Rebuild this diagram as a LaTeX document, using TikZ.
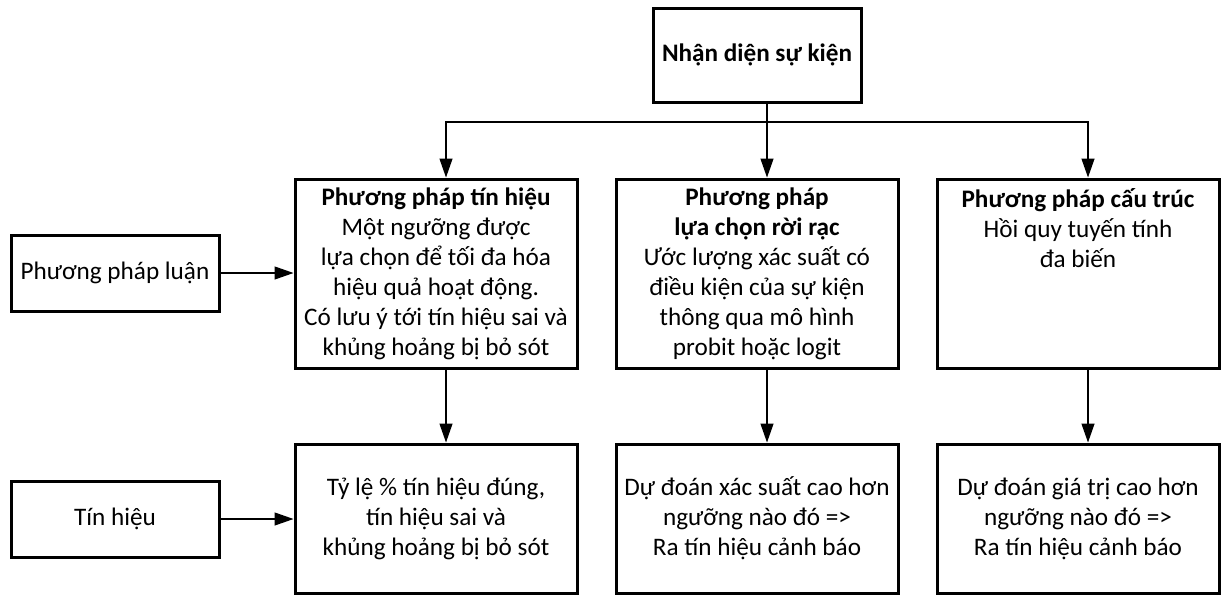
\documentclass[tikz,border=0pt]{standalone}
\usepackage{fontspec}
\setmainfont{Carlito}
\usetikzlibrary{arrows.meta}

\begin{document}
\begin{tikzpicture}[
    x=0.5pt, y=-0.5pt, % one unit = one pixel of the layout, y downwards
    >={Triangle[length=9.5pt, width=6.5pt]}, % filled triangle tips
    box/.style={draw, line width=1.5pt, align=center, inner sep=2pt,
      font=\fontsize{12.6}{15}\selectfont}, % common frame of all boxes
    method box/.style={box, minimum width=141pt, minimum height=94.5pt}, % upper row
    result box/.style={box, minimum width=141pt, minimum height=74.5pt}, % lower row
    side box/.style={box, minimum width=104pt, minimum height=38pt}, % labels on the left
    conn/.style={->, line width=0.65pt} % connectors
  ]

  % --- Frame ---
  \useasboundingbox (0,0) rectangle (1221,595);

  % --- Top ---
  \node[box, minimum width=104pt, minimum height=47pt] (event) at (757,55)
    {\textbf{Nhận diện sự kiện}};

  % --- Methods (upper row) ---
  \node[method box] (signal) at (436,273.5)
    {\textbf{Phương pháp tín hiệu}\\Một ngưỡng được\\lựa chọn để tối đa hóa\\hiệu quả hoạt động.\\Có lưu ý tới tín hiệu sai và\\khủng hoảng bị bỏ sót};
  \node[method box] (choice) at (757,273.5)
    {\textbf{Phương pháp}\\\textbf{lựa chọn rời rạc}\\Ước lượng xác suất có\\điều kiện của sự kiện\\thông qua mô hình\\probit hoặc logit};
  \node[method box] (struct) at (1078,273.5)
    {\textbf{Phương pháp cấu trúc}\\Hồi quy tuyến tính\\đa biến\\~\\~\\~};

  % --- Results (lower row) ---
  \node[result box] (signalout) at (436,518.5)
    {Tỷ lệ \% tín hiệu đúng,\\tín hiệu sai và\\khủng hoảng bị bỏ sót};
  \node[result box] (choiceout) at (757,518.5)
    {Dự đoán xác suất cao hơn\\ngưỡng nào đó =>\\Ra tín hiệu cảnh báo};
  \node[result box] (structout) at (1078,518.5)
    {Dự đoán giá trị cao hơn\\ngưỡng nào đó =>\\Ra tín hiệu cảnh báo};

  % --- Row labels ---
  \node[side box] (method) at (115,273) {Phương pháp luận};
  \node[side box] (signallbl) at (115,519) {Tín hiệu};

  % --- Connectors ---
  \coordinate (bus) at (767,122); % branching point under the top box
  \draw[line width=0.65pt] ([xshift=5pt]event.south) -- (bus);
  \draw[conn] (bus) -- ([xshift=5pt]choice.north);
  \draw[conn] (bus) -| ([xshift=5pt]signal.north);
  \draw[conn] (bus) -| ([xshift=5pt]struct.north);
  \foreach \col in {signal, choice, struct} {
      \draw[conn] ([xshift=5pt]\col.south) -- ([xshift=5pt]\col out.north);
  }
  \draw[conn] (method.east) -- (method.east -| signal.west);
  \draw[conn] (signallbl.east) -- (signallbl.east -| signalout.west);

\end{tikzpicture}
\end{document}
